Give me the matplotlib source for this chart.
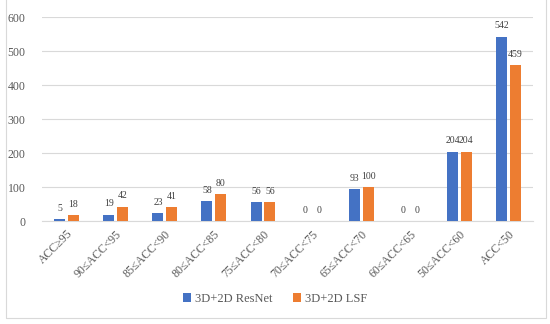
import matplotlib
matplotlib.use("Agg")
import matplotlib.pyplot as plt
import numpy as np
from matplotlib.patches import Rectangle

categories = ["ACC≥95", "90≤ACC<95", "85≤ACC<90", "80≤ACC<85", "75≤ACC<80",
              "70≤ACC<75", "65≤ACC<70", "60≤ACC<65", "50≤ACC<60", "ACC<50"]
resnet = [5, 19, 23, 58, 56, 0, 93, 0, 204, 542]
lsf = [18, 42, 41, 80, 56, 0, 100, 0, 204, 459]
series_names = ["3D+2D ResNet", "3D+2D LSF"]
yticks = [0, 100, 200, 300, 400, 500, 600]

plt.rcParams['font.family'] = ['Liberation Serif', 'DejaVu Serif']

fig = plt.figure(figsize=(5.5, 3.24), dpi=100)
ax = fig.add_axes([42/550, 1-221/324, (533-42)/550, (221-17)/324])

x = np.arange(len(categories))
w = 0.225
off = 0.14
c1, c2 = "#4472C4", "#ED7D31"
b1 = ax.bar(x - off, resnet, w, color=c1, label=series_names[0], zorder=3)
b2 = ax.bar(x + off, lsf, w, color=c2, label=series_names[1], zorder=3)
for bars, vals in ((b1, resnet), (b2, lsf)):
    for r, v in zip(bars, vals):
        ax.annotate(str(v), (r.get_x() + r.get_width()/2, v), xytext=(0, 4.5),
                    textcoords="offset points", ha="center", va="bottom",
                    fontsize=7, color="#404040", zorder=5)

ax.set_xlim(-0.5, len(categories) - 0.5)
ax.set_ylim(0, 600)
ax.set_yticks(yticks)
ax.set_xticks(x)
ax.set_xticklabels(categories, rotation=45, ha="right", rotation_mode="anchor",
                   fontsize=8.5, color="#595959")
ax.tick_params(axis="y", length=0, labelsize=8.5, labelcolor="#595959", pad=12)
ax.tick_params(axis="x", length=0, pad=5)
ax.grid(axis="y", color="#d9d9d9", linewidth=0.8, zorder=0)
for s in ["left", "right", "top"]:
    ax.spines[s].set_visible(False)
ax.spines["bottom"].set_color("#d9d9d9")

fig.legend(handles=[b1, b2], labels=series_names, loc="center",
           bbox_to_anchor=(0.5, 1-299/324), ncol=2, frameon=False, fontsize=9,
           handlelength=0.7, handleheight=0.7, handletextpad=0.3, columnspacing=1.6,
           labelcolor="#595959")

fig.patches.append(Rectangle((6/550, 6/324), 540/550, 330/324, transform=fig.transFigure,
                             fill=False, edgecolor="#d9d9d9", linewidth=0.8))

fig.savefig("out.png", dpi=100)
